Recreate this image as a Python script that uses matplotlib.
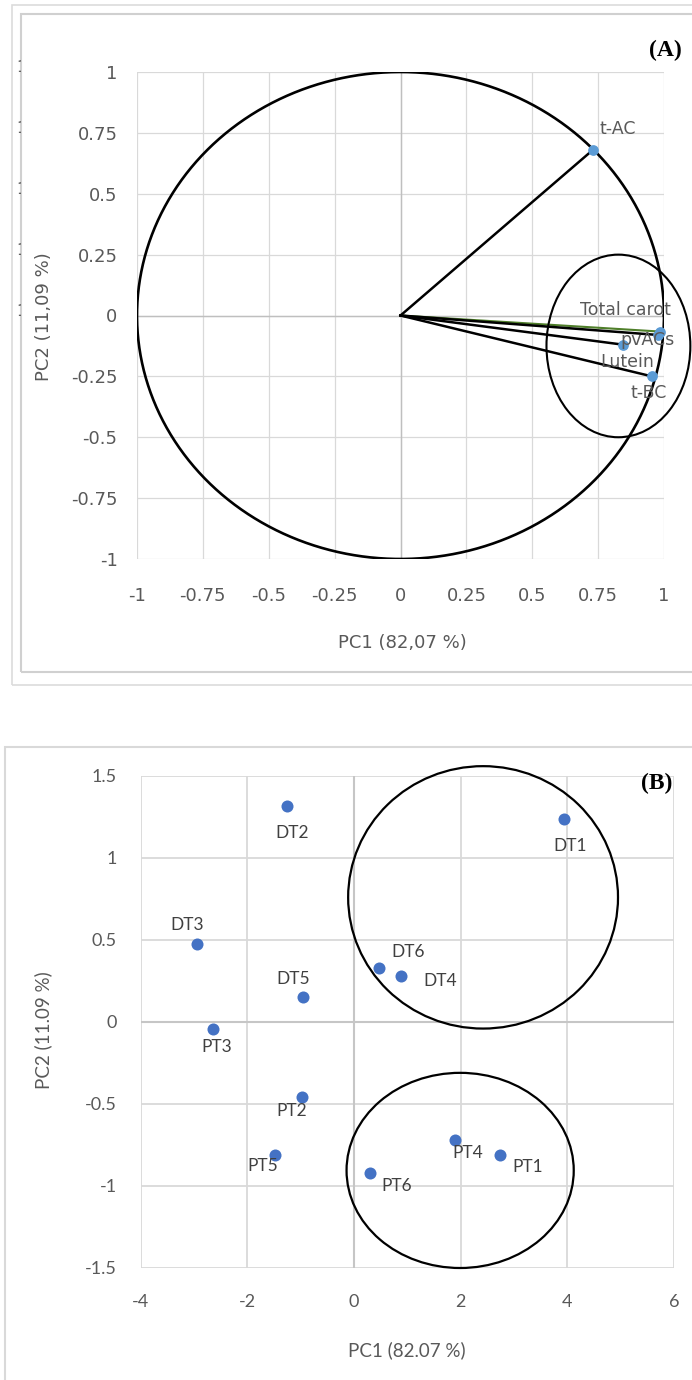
import numpy as np
import matplotlib.pyplot as plt
from matplotlib.patches import Ellipse, Rectangle
from matplotlib.transforms import Bbox

W, H = 692, 1380

# ---------- (A) cercle des corrélations ----------
var_names = ['t-AC', 'Total carot', 'pvACs', 'Lutein', 't-BC']
pc1_load = [0.73, 0.985, 0.978, 0.846, 0.954]
pc2_load = [0.68, -0.066, -0.08, -0.12, -0.25]
vec_colors = ['black', '#4f7f2a', 'black', 'black', 'black']
ticks_a = [-1, -0.75, -0.5, -0.25, 0, 0.25, 0.5, 0.75, 1]
tick_labels_a = ['-1', '-0.75', '-0.5', '-0.25', '0', '0.25', '0.5', '0.75', '1']
# ellipse autour du groupe des caroténoïdes (centre x, centre y, largeur, hauteur)
group_a = (0.827, -0.125, 0.546, 0.75)

# ---------- (B) scores des échantillons ----------
samples = ['DT1', 'DT2', 'DT3', 'DT4', 'DT5', 'DT6',
           'PT1', 'PT2', 'PT3', 'PT4', 'PT5', 'PT6']
pc1_score = [3.94, -1.26, -2.95, 0.88, -0.95, 0.47,
             2.74, -0.98, -2.64, 1.89, -1.48, 0.30]
pc2_score = [1.24, 1.32, 0.476, 0.28, 0.15, 0.33,
             -0.81, -0.46, -0.04, -0.72, -0.81, -0.92]
xticks_b = [-4, -2, 0, 2, 4, 6]
yticks_b = [-1.5, -1, -0.5, 0, 0.5, 1, 1.5]
groups_b = [(2.42, 0.76, 5.06, 1.60), (1.99, -0.905, 4.26, 1.19)]

# décalage des étiquettes (pixels)
off_a = [(7, 21), (-80, 22), (-38, -5), (-23, -17), (-21, -17)]
off_b = [(6, -27), (5, -27), (-10, 19), (39, -5), (-10, 18), (29, 16),
         (28, -12), (-10, -14), (4, -18), (13, -13), (-12, -11), (27, -13)]

font_a = ['Liberation Sans Narrow', 'DejaVu Sans']
font_b = ['Lato', 'DejaVu Sans']
GRID = '#d9d9d9'
TXT = '#595959'

fig = plt.figure(figsize=(W / 100, H / 100), dpi=100)
fig.patch.set_facecolor('white')


def fx(px):
    return px / W


def fy(py):
    return 1 - py / H


def frame(x0, y0, x1, y1, color, lw):
    fig.add_artist(Rectangle((fx(x0), fy(y1)), fx(x1) - fx(x0), fy(y0) - fy(y1),
                             transform=fig.transFigure, fill=False,
                             edgecolor=color, linewidth=lw))


# cadres
frame(12, 5, 705, 685, '#dcdcdc', 1.2)
frame(21, 14, 705, 672, '#d0d0d0', 1.5)
frame(5, 747, 705, 1395, '#d9d9d9', 1.5)

# ================= (A) =================
axA = fig.add_axes([fx(137), fy(559), fx(664) - fx(137), fy(72) - fy(559)])
axA.set_xlim(-1, 1)
axA.set_ylim(-1, 1)
for s in axA.spines.values():
    s.set_visible(False)
axA.set_xticks(ticks_a)
axA.set_yticks(ticks_a)
axA.set_xticklabels(tick_labels_a, family=font_a, fontsize=13, color=TXT)
axA.set_yticklabels(tick_labels_a, family=font_a, fontsize=13, color=TXT)
axA.tick_params(length=0, pad=0)
axA.tick_params(axis='x', pad=20)
axA.tick_params(axis='y', pad=14)
axA.grid(True, color=GRID, linewidth=0.9)
axA.axhline(0, color='#bfbfbf', linewidth=1.0, zorder=1)
axA.axvline(0, color='#bfbfbf', linewidth=1.0, zorder=1)
axA.set_axisbelow(True)

theta = np.linspace(0, 2 * np.pi, 400)
axA.plot(np.cos(theta), np.sin(theta), color='black', linewidth=1.9, zorder=3)

for x, y, c in zip(pc1_load, pc2_load, vec_colors):
    axA.plot([0, x], [0, y], color=c, linewidth=1.8 if c == 'black' else 1.5, zorder=4)
axA.scatter(pc1_load, pc2_load, s=45, color='#5b9bd5', zorder=5, clip_on=False)
for name, x, y, (dx, dy) in zip(var_names, pc1_load, pc2_load, off_a):
    axA.annotate(name, (x, y), xytext=(dx, dy), textcoords='offset pixels',
                 ha='left', va='center', fontsize=12.5, color=TXT,
                 family=font_a, zorder=6, annotation_clip=False)

cx, cy, ew, eh = group_a
axA.add_patch(Ellipse((cx, cy), ew, eh, fill=False, edgecolor='black',
                      linewidth=1.5, zorder=6, clip_on=False))

fig.text(fx(402), fy(643), 'PC1 (82,07 %)', ha='center', va='center',
         fontsize=13, color=TXT, family=font_a)
fig.text(fx(44), fy(317), 'PC2 (11,09 %)', ha='center', va='center',
         rotation=90, fontsize=13, color=TXT, family=font_a)
fig.text(fx(682), fy(50), '(A)', ha='right', va='center', fontsize=17,
         fontweight='bold', family='Liberation Serif')

# restes d'étiquettes coupés par le cadre
for v in [1, 0.75, 0.5, 0.25, 0]:
    py = 72 + (1 - v) / 0.25 * 60.9 - 4
    t = fig.text(fx(26), fy(py), '1', ha='right', va='center', fontsize=11,
                 color='#606060', family=font_a)
    t.set_clip_on(True)
    t.set_clip_box(Bbox([[0, 0], [20.5, H]]))

# ================= (B) =================
axB = fig.add_axes([fx(140.7), fy(1268), fx(674) - fx(140.7), fy(776) - fy(1268)])
axB.set_xlim(-4, 6)
axB.set_ylim(-1.5, 1.5)
for s in axB.spines.values():
    s.set_visible(False)
axB.set_xticks(xticks_b)
axB.set_yticks(yticks_b)
axB.set_xticklabels([f'{t:g}' for t in xticks_b], family=font_b, fontsize=13, color=TXT)
axB.set_yticklabels([f'{t:g}' for t in yticks_b], family=font_b, fontsize=13, color=TXT)
axB.tick_params(length=0)
axB.tick_params(axis='x', pad=19)
axB.tick_params(axis='y', pad=17)
axB.grid(True, color=GRID, linewidth=1.3)
axB.axhline(0, color='#c6c6c6', linewidth=1.5, zorder=1)
axB.axvline(0, color='#c6c6c6', linewidth=1.5, zorder=1)
axB.set_axisbelow(True)

axB.scatter(pc1_score, pc2_score, s=75, color='#4472c4', zorder=4, linewidths=0)
for name, x, y, (dx, dy) in zip(samples, pc1_score, pc2_score, off_b):
    axB.annotate(name, (x, y), xytext=(dx, dy), textcoords='offset pixels',
                 ha='center', va='center', fontsize=12.5, color='#404040',
                 family=font_b, zorder=5)

for cx, cy, ew, eh in groups_b:
    axB.add_patch(Ellipse((cx, cy), ew, eh, fill=False, edgecolor='black',
                          linewidth=1.6, zorder=6, clip_on=False))

fig.text(fx(407), fy(1350), 'PC1 (82.07 %)', ha='center', va='center',
         fontsize=13.5, color=TXT, family=font_b)
fig.text(fx(43), fy(1030), 'PC2 (11.09 %)', ha='center', va='center',
         rotation=90, fontsize=13.5, color=TXT, family=font_b)
fig.text(fx(641), fy(783), '(B)', ha='left', va='center', fontsize=17,
         fontweight='bold', family='Liberation Serif')

fig.savefig('out.png', dpi=100)
